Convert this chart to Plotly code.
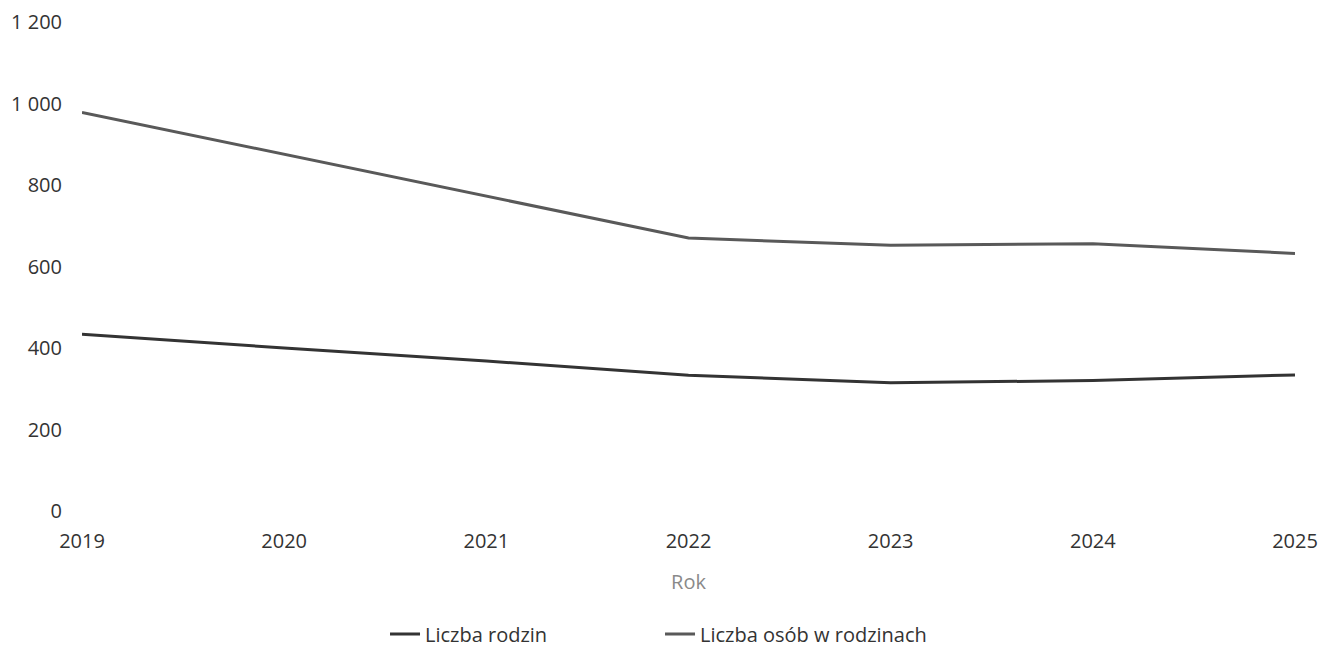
import plotly.graph_objects as go

years = [2019, 2020, 2021, 2022, 2023, 2024, 2025]
liczba_rodzin = [434, 400, 368, 333, 315, 320, 334]
liczba_osob = [978, 875, 773, 670, 652, 656, 632]
y_ticks = [0, 200, 400, 600, 800, 1000, 1200]

fig = go.Figure()
fig.add_trace(go.Scatter(x=years, y=liczba_rodzin, mode="lines", name="Liczba rodzin",
                         line=dict(color="#333333", width=3)))
fig.add_trace(go.Scatter(x=years, y=liczba_osob, mode="lines", name="Liczba osób w rodzinach",
                         line=dict(color="#595959", width=3)))

fig.update_layout(
    width=1332, height=647,
    paper_bgcolor="white", plot_bgcolor="white",
    margin=dict(l=74, r=45, t=14, b=144, autoexpand=False),
    font=dict(family="Open Sans", size=20, color="#333333"),
    separators=", ",
    showlegend=True,
    legend=dict(orientation="h", xref="container", yref="container",
                x=0.4895, xanchor="center", y=0.0325, yanchor="middle",
                entrywidth=230, font=dict(size=20, color="#333333")),
    xaxis=dict(tickmode="array", tickvals=years, ticktext=[str(y) for y in years],
               range=[2019, 2025], showgrid=False, zeroline=False, showline=False,
               ticks="", ticklabelstandoff=16, automargin=False, ticklabeloverflow="allow",
               title=dict(text="Rok", font=dict(size=20, color="#8a8a8a"), standoff=21)),
    yaxis=dict(tickmode="array", tickvals=y_ticks, range=[0, 1200], showgrid=False,
               zeroline=False, showline=False, ticks="", ticklabelstandoff=19,
               automargin=False, tickformat=",d", ticklabeloverflow="allow"),
)

fig.write_html("out.html")
